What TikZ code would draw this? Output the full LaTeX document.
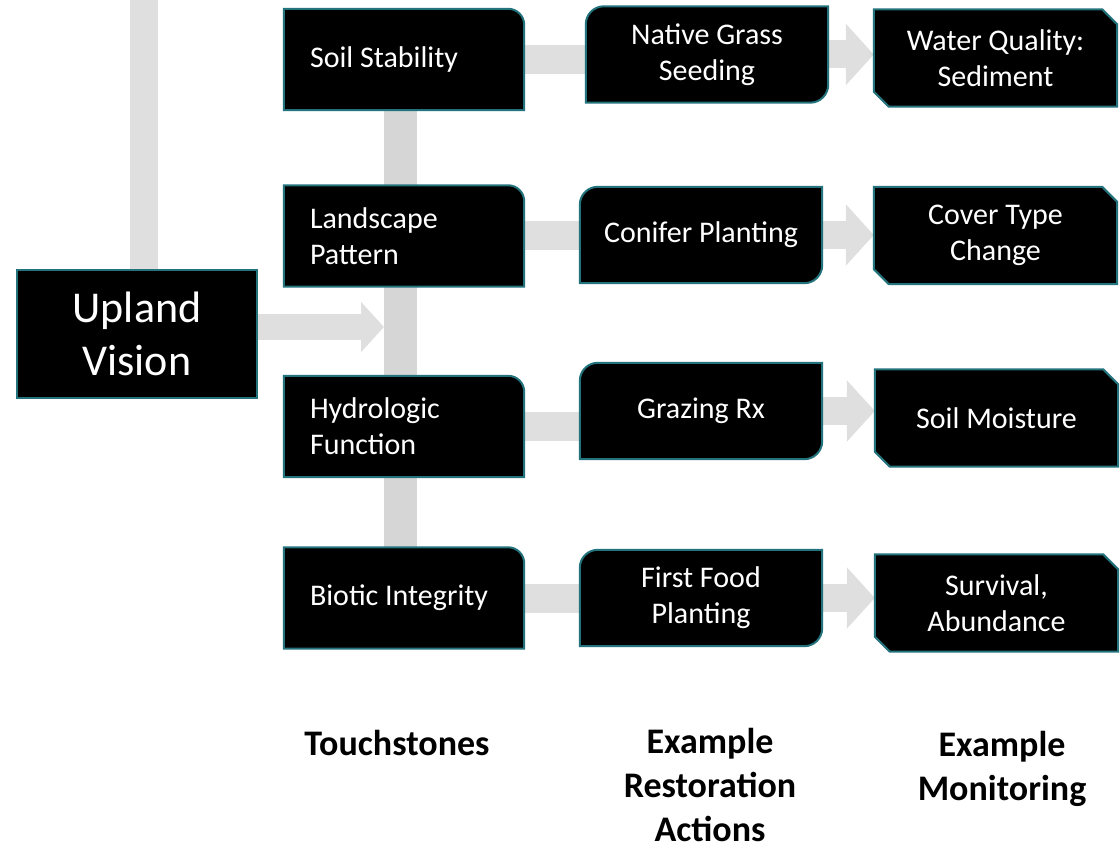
\documentclass[tikz,border=0pt]{standalone}
\usepackage{fontspec}
\setmainfont{Carlito}
\usetikzlibrary{arrows.meta,backgrounds}

\definecolor{boxedge}{RGB}{35,115,125}
\definecolor{bargray}{RGB}{223,223,223}
\definecolor{spinegray}{RGB}{214,214,214}

\tikzset{
    boxtext/.style={text=white, inner sep=0pt, font=\fontsize{30}{36}\selectfont},
    tsbox/.style={boxtext, text width=188pt, inner xsep=26pt, minimum height=101pt, align=flush left},
    actbox/.style={boxtext, minimum width=242pt, minimum height=96pt, align=center},
    monbox/.style={boxtext, minimum width=243pt, minimum height=97pt, align=center},
    boxfill/.style={fill=black, draw=boxedge, line width=2pt},
    heading/.style={font=\bfseries\fontsize{36}{44}\selectfont, align=center}
}

\begin{document}
\begin{tikzpicture}[x=1pt,y=1pt]
    \useasboundingbox (0,0) rectangle (1120,-845);

    % Vision
    \node[boxtext, minimum width=240pt, minimum height=128pt, align=center,
          font=\fontsize{44}{53}\selectfont] (vision) at (137,-334) {Upland\\Vision};

    % Touchstones
    \node[tsbox] (soil) at (404,-59.5) {Soil Stability};
    \node[tsbox] (pattern) at (404,-236) {Landscape\\Pattern};
    \node[tsbox] (hydro) at (404,-426.5) {Hydrologic\\Function};
    \node[tsbox] (biotic) at (404,-598) {Biotic Integrity};

    % Restoration actions
    \node[actbox] (seeding) at (707,-54.5) {Native Grass\\Seeding};
    \node[actbox] (conifer) at (701,-235) {Conifer Planting};
    \node[actbox] (grazing) at (701,-411) {Grazing Rx};
    \node[actbox] (food) at (701,-598) {First Food\\Planting};

    % Monitoring
    \node[monbox] (water) at (995.5,-58) {Water Quality:\\Sediment};
    \node[monbox] (cover) at (995.5,-235.5) {Cover Type\\Change};
    \node[monbox] (moisture) at (996.5,-418) {Soil Moisture};
    \node[monbox] (survival) at (996.5,-603) {Survival,\\Abundance};

    % Column headings
    \node[heading] (touchlbl) at (397,-743) {Touchstones};
    \node[heading] (actlbl) at (710,-785) {Example\\Restoration\\Actions};
    \node[heading] (monlbl) at (1002,-769) {Example\\Monitoring};

    \coordinate (vtop) at (144,0);
    \coordinate (vtip) at (384,-327);
    \coordinate (spine) at (400,0);

    \begin{scope}[on background layer]
        % Grey links
        \draw[bargray, line width=28pt] (vtop) -- (vtop |- vision.north);
        \draw[bargray, line width=25pt, -{Triangle[length=23pt,width=49pt]}]
            (vtip -| vision.east) -- (vtip);
        \draw[spinegray, line width=33pt] (spine |- soil.south) -- (spine |- biotic.north);
        \foreach \a/\b in {soil/seeding, pattern/conifer, hydro/grazing, biotic/food}
            \draw[bargray, line width=29pt] (\a.east) -- (\a.east -| \b.west);
        \foreach \a/\b in {seeding/water, conifer/cover, grazing/moisture, food/survival}
            \draw[bargray, line width=28pt, -{Triangle[length=28pt,width=60pt]}]
                (\a.east) -- (\a.east -| \b.west);

        % Boxes
        \draw[boxfill] (vision.south west) rectangle (vision.north east);
        \foreach \n in {soil, pattern, hydro, biotic}
            \draw[boxfill] (\n.south west) -- (\n.north west) -- ([xshift=-16pt]\n.north east)
                arc[start angle=90, end angle=0, radius=16pt] -- (\n.south east) -- cycle;
        \foreach \n in {seeding, conifer, grazing, food}
            \draw[boxfill] ([yshift=-18pt]\n.north west) arc[start angle=180, end angle=90, radius=18pt]
                -- (\n.north east) -- ([yshift=18pt]\n.south east)
                arc[start angle=0, end angle=-90, radius=18pt] -- (\n.south west) -- cycle;
        \foreach \n in {water, cover, moisture, survival}
            \draw[boxfill] (\n.north west) -- ([xshift=-15pt]\n.north east) -- ([yshift=-15pt]\n.north east)
                -- (\n.south east) -- ([xshift=15pt]\n.south west) -- ([yshift=15pt]\n.south west) -- cycle;
    \end{scope}
\end{tikzpicture}
\end{document}
